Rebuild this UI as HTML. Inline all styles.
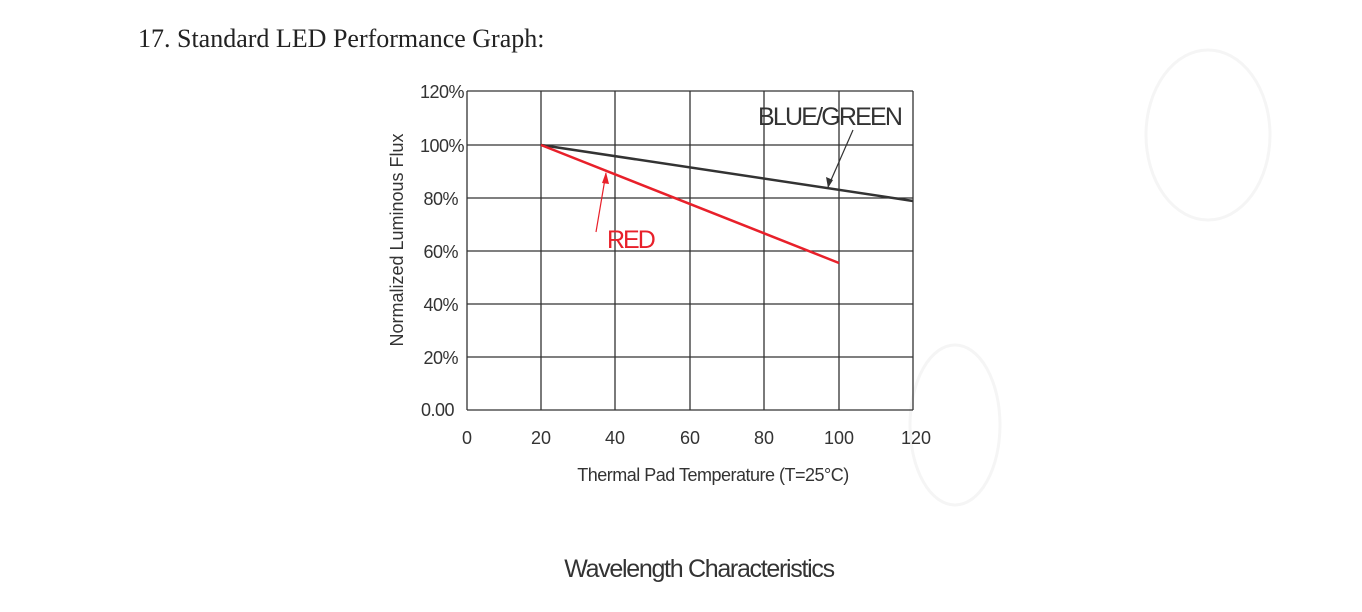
<!DOCTYPE html>
<html><head><meta charset="utf-8"><style>
html,body{margin:0;padding:0;background:#fff;}
body{width:1362px;height:612px;overflow:hidden;position:relative;}
</style></head><body>
<svg width="1362" height="612" xmlns="http://www.w3.org/2000/svg" style="position:absolute;left:0;top:0">
<ellipse cx="1208" cy="135" rx="62" ry="85" fill="none" stroke="#f5f5f5" stroke-width="3"/>
<ellipse cx="955" cy="425" rx="45" ry="80" fill="none" stroke="#f5f5f5" stroke-width="3"/>
<text x="138" y="47" font-family="Liberation Serif, serif" font-size="26" fill="#222">17. Standard LED Performance Graph:</text>
<g stroke="#333" stroke-width="1.3" fill="none">
<line x1="467" y1="91" x2="913" y2="91"/>
<line x1="467" y1="145" x2="913" y2="145"/>
<line x1="467" y1="198" x2="913" y2="198"/>
<line x1="467" y1="251" x2="913" y2="251"/>
<line x1="467" y1="304" x2="913" y2="304"/>
<line x1="467" y1="357" x2="913" y2="357"/>
<line x1="467" y1="410" x2="913" y2="410"/>
<line x1="467" y1="91" x2="467" y2="410"/>
<line x1="541" y1="91" x2="541" y2="410"/>
<line x1="615" y1="91" x2="615" y2="410"/>
<line x1="690" y1="91" x2="690" y2="410"/>
<line x1="764" y1="91" x2="764" y2="410"/>
<line x1="839" y1="91" x2="839" y2="410"/>
<line x1="913" y1="91" x2="913" y2="410"/>
</g>
<line x1="541" y1="145" x2="913" y2="201" stroke="#333" stroke-width="2.5"/>
<line x1="541" y1="145" x2="839" y2="263" stroke="#e8202a" stroke-width="2.5"/>
<line x1="853" y1="130" x2="828" y2="187" stroke="#333" stroke-width="1.2"/>
<polygon points="828,188 826,177 833,180" fill="#333"/>
<line x1="596" y1="232" x2="606" y2="173" stroke="#e8202a" stroke-width="1.2"/>
<polygon points="606,172 602,183 609,184" fill="#e8202a"/>
<text x="758" y="125" font-family="Liberation Sans, sans-serif" font-size="25" letter-spacing="-1.8" fill="#333">BLUE/GREEN</text>
<text x="607" y="248" font-family="Liberation Sans, sans-serif" font-size="25" letter-spacing="-2" fill="#e8202a">RED</text>
<g font-family="Liberation Sans, sans-serif" font-size="18" fill="#333" text-anchor="end" letter-spacing="-0.5">
<text x="464" y="98">120%</text>
<text x="464" y="152">100%</text>
<text x="458" y="205">80%</text>
<text x="458" y="258">60%</text>
<text x="458" y="311">40%</text>
<text x="458" y="364">20%</text>
<text x="454" y="416">0.00</text>
</g>
<g font-family="Liberation Sans, sans-serif" font-size="18" fill="#333" text-anchor="middle">
<text x="467" y="444">0</text>
<text x="541" y="444">20</text>
<text x="615" y="444">40</text>
<text x="690" y="444">60</text>
<text x="764" y="444">80</text>
<text x="839" y="444">100</text>
<text x="916" y="444">120</text>
</g>
<text transform="translate(403,240) rotate(-90)" font-family="Liberation Sans, sans-serif" font-size="18" fill="#333" text-anchor="middle">Normalized Luminous Flux</text>
<text x="713" y="481" font-family="Liberation Sans, sans-serif" font-size="18" fill="#333" text-anchor="middle" letter-spacing="-0.5">Thermal Pad Temperature (T=25°C)</text>
<text x="699" y="577" font-family="Liberation Sans, sans-serif" font-size="25" fill="#333" text-anchor="middle" letter-spacing="-1.3">Wavelength Characteristics</text>
</svg>
</body></html>
